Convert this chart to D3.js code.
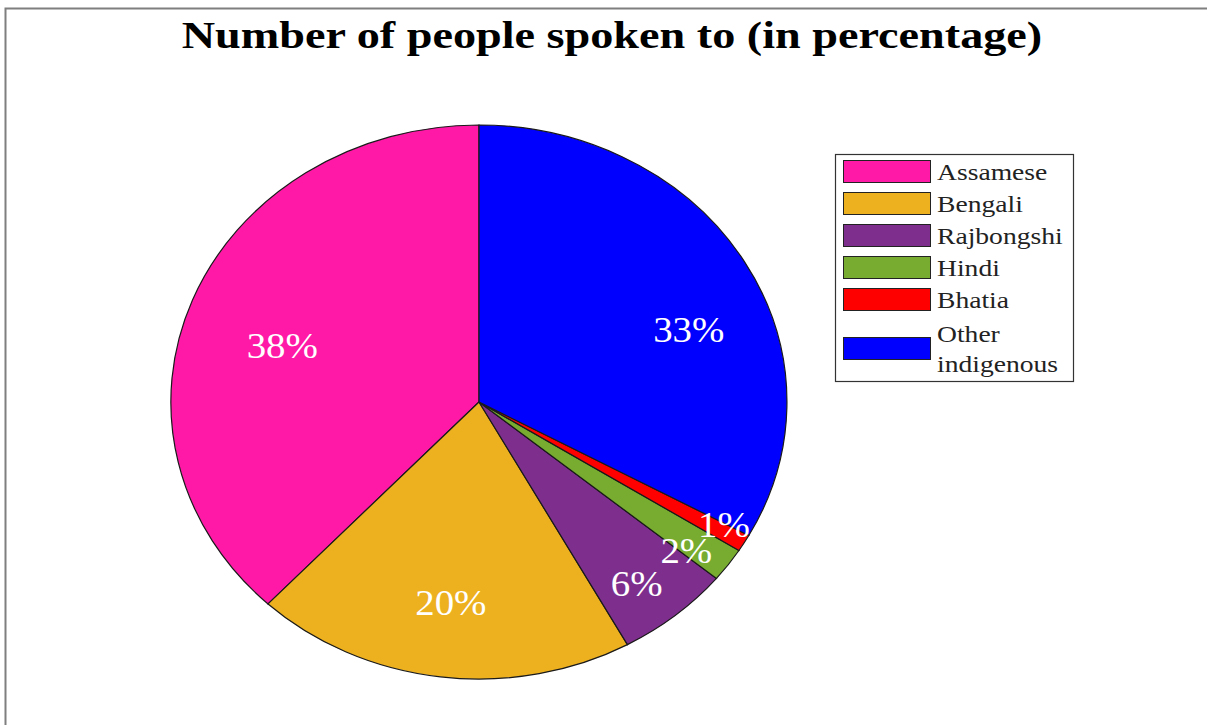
<!DOCTYPE html>
<html>
<head>
<meta charset="utf-8">
<script src="https://cdn.jsdelivr.net/npm/d3@7"></script>
<style>
  html, body { margin: 0; padding: 0; background: #fff; }
  svg { display: block; }
</style>
</head>
<body>
<svg id="chart" width="1207" height="725"></svg>
<script>
// Share of people spoken to, by language
const languages = ["Assamese", "Bengali", "Rajbongshi", "Hindi", "Bhatia", "Other indigenous"];
const shares = [38, 20, 6, 2, 1, 33];
const sliceColors = ["#FF19A6", "#EDB120", "#7E2F8E", "#77AC30", "#FF0000", "#0000FF"];

// Label placement, as a fraction of the radius and a small angular nudge (degrees)
const labelRadius = [0.67, 0.73, 0.83, 0.86, 0.91, 0.73];
const labelNudge = [-4, 0, 1.5, 2.5, -1.5, 9.5];

const FONT = "'Liberation Serif', 'Times New Roman', serif";
const svg = d3.select("#chart");

// Outer frame (top and left edges)
svg.append("path")
  .attr("d", "M5.5,725 L5.5,8.5 L1207,8.5")
  .attr("fill", "none").attr("stroke", "#7f7f7f").attr("stroke-width", 2);

// Title
svg.append("text")
  .attr("transform", "translate(612,48) scale(1.2,1)")
  .attr("text-anchor", "middle")
  .style("font-family", FONT)
  .style("font-weight", "bold")
  .style("font-size", "38.5px")
  .attr("fill", "#000")
  .text("Number of people spoken to (in percentage)");

// Elliptical pie: unit arcs stretched onto the plot area
const xScale = d3.scaleLinear().domain([-1, 1]).range([171, 787]);
const yScale = d3.scaleLinear().domain([-1, 1]).range([125, 679]);
const cx = xScale(0), cy = yScale(0);
const rx = xScale(1) - cx, ry = yScale(1) - cy;

const pie = d3.pie().sort(null).startAngle(0).endAngle(-2 * Math.PI);
const arcs = pie(shares);
const arc = d3.arc().innerRadius(0).outerRadius(1);

const pieG = svg.append("g")
  .attr("transform", `translate(${cx},${cy}) scale(${rx},${ry})`);

pieG.selectAll("path")
  .data(arcs)
  .join("path")
  .attr("d", arc)
  .attr("fill", (d, i) => sliceColors[i])
  .attr("stroke", "#1a1a1a")
  .attr("stroke-width", 1.2)
  .attr("vector-effect", "non-scaling-stroke");

// Percentage labels
svg.append("g").selectAll("text")
  .data(arcs)
  .join("text")
  .attr("transform", (d, i) => {
    const a = (d.startAngle + d.endAngle) / 2 + labelNudge[i] * Math.PI / 180;
    const x = xScale(labelRadius[i] * Math.sin(a));
    const y = yScale(-labelRadius[i] * Math.cos(a));
    return `translate(${x},${y}) scale(1.08,1)`;
  })
  .attr("text-anchor", "middle")
  .attr("dy", "0.35em")
  .style("font-family", FONT)
  .style("font-size", "36px")
  .attr("fill", "#fff")
  .text(d => `${d.data}%`);

// Legend
const legend = svg.append("g");
legend.append("rect")
  .attr("x", 835.5).attr("y", 154.5)
  .attr("width", 238).attr("height", 227)
  .attr("fill", "#fff").attr("stroke", "#333").attr("stroke-width", 1.2);

const rowY = d3.scalePoint().domain(d3.range(6)).range([171.5, 331.5]);
const items = legend.selectAll("g.item")
  .data(languages)
  .join("g")
  .attr("class", "item")
  .attr("transform", (d, i) => `translate(0,${i === 5 ? rowY(i) + 17 : rowY(i)})`);

items.append("rect")
  .attr("x", 843.5).attr("y", -11)
  .attr("width", 87).attr("height", 22)
  .attr("fill", (d, i) => sliceColors[i])
  .attr("stroke", "#222").attr("stroke-width", 1);

items.each(function (d, i) {
  const g = d3.select(this);
  const lines = i === 5 ? ["Other", "indigenous"] : [d];
  const t = g.append("text")
    .attr("transform", "translate(937,0) scale(1.2,1)")
    .style("font-family", FONT)
    .style("font-size", "23px")
    .attr("fill", "#222");
  lines.forEach((ln, j) => {
    t.append("tspan")
      .attr("x", 0)
      .attr("y", lines.length === 1 ? 8 : (j === 0 ? -7 : 24))
      .text(ln);
  });
});
</script>
</body>
</html>
